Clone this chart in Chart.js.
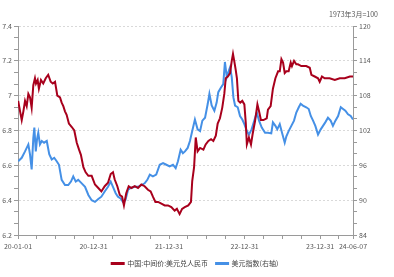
<!DOCTYPE html>
<html>
<head>
<meta charset="utf-8">
<script src="https://cdn.jsdelivr.net/npm/chart.js@4"></script>
<style>
html,body{margin:0;padding:0;background:#fff}
#wrap{width:394px;height:277px}
</style>
</head>
<body>
<div id="wrap"><canvas id="c" width="394" height="277"></canvas></div>
<script>
// 中国:中间价:美元兑人民币 (left axis)
const cnyDates = ['2020-01-02','2020-01-11','2020-01-19','2020-01-27','2020-02-04','2020-02-12','2020-02-20','2020-02-28','2020-03-07','2020-03-15','2020-03-23','2020-03-28','2020-04-05','2020-04-11','2020-04-21','2020-05-02','2020-05-14','2020-05-26','2020-06-07','2020-06-17','2020-06-28','2020-07-09','2020-07-22','2020-07-30','2020-08-07','2020-08-15','2020-08-23','2020-09-03','2020-09-17','2020-09-29','2020-10-11','2020-10-22','2020-10-31','2020-11-12','2020-11-23','2020-12-06','2020-12-22','2021-01-07','2021-01-23','2021-02-07','2021-02-23','2021-03-11','2021-03-24','2021-04-04','2021-04-12','2021-04-25','2021-05-07','2021-05-18','2021-05-27','2021-06-07','2021-06-19','2021-07-02','2021-07-18','2021-08-03','2021-08-19','2021-09-04','2021-09-20','2021-10-03','2021-10-14','2021-10-26','2021-11-08','2021-11-24','2021-12-10','2021-12-26','2022-01-11','2022-01-27','2022-02-07','2022-02-20','2022-03-04','2022-03-17','2022-04-03','2022-04-16','2022-04-22','2022-05-01','2022-05-09','2022-05-18','2022-05-30','2022-06-15','2022-06-26','2022-07-09','2022-07-22','2022-08-02','2022-08-14','2022-08-23','2022-09-03','2022-09-14','2022-09-24','2022-10-01','2022-10-11','2022-10-22','2022-10-30','2022-11-05','2022-11-11','2022-11-18','2022-11-24','2022-12-01','2022-12-10','2022-12-20','2022-12-30','2023-01-06','2023-01-11','2023-01-21','2023-01-31','2023-02-08','2023-02-19','2023-03-03','2023-03-11','2023-03-20','2023-04-01','2023-04-17','2023-04-23','2023-05-06','2023-05-17','2023-05-29','2023-06-11','2023-06-19','2023-06-27','2023-07-05','2023-07-13','2023-07-21','2023-08-01','2023-08-11','2023-08-17','2023-08-27','2023-09-07','2023-09-15','2023-10-01','2023-10-25','2023-11-11','2023-11-19','2023-12-05','2023-12-21','2023-12-29','2024-01-09','2024-01-22','2024-02-15','2024-03-11','2024-04-04','2024-04-28','2024-05-23','2024-06-07'];
const cnyValues = [6.97,6.91,6.86,6.91,6.97,6.94,7.01,6.99,6.93,7.06,7.10,7.07,7.09,7.04,7.09,7.07,7.10,7.12,7.08,7.07,7.08,7.00,6.99,6.96,6.94,6.91,6.89,6.84,6.82,6.80,6.73,6.69,6.66,6.59,6.56,6.54,6.54,6.49,6.47,6.45,6.48,6.50,6.55,6.56,6.52,6.48,6.43,6.42,6.37,6.44,6.48,6.47,6.48,6.47,6.49,6.48,6.46,6.45,6.42,6.39,6.39,6.38,6.37,6.37,6.36,6.34,6.35,6.32,6.35,6.36,6.37,6.39,6.51,6.59,6.76,6.68,6.70,6.69,6.72,6.74,6.75,6.74,6.77,6.84,6.87,6.93,7.01,7.10,7.11,7.13,7.20,7.24,7.20,7.15,7.10,6.97,6.96,6.97,6.95,6.84,6.72,6.76,6.72,6.78,6.85,6.95,6.91,6.86,6.86,6.87,6.92,6.94,7.04,7.10,7.14,7.14,7.21,7.19,7.13,7.14,7.14,7.19,7.17,7.20,7.18,7.18,7.17,7.17,7.16,7.12,7.11,7.10,7.08,7.11,7.10,7.10,7.09,7.10,7.10,7.11,7.11];

// 美元指数 (right axis)
const dxyDates = ['2020-01-02','2020-01-19','2020-02-04','2020-02-20','2020-02-28','2020-03-07','2020-03-15','2020-03-20','2020-03-27','2020-04-02','2020-04-08','2020-04-16','2020-04-25','2020-05-06','2020-05-19','2020-05-31','2020-06-12','2020-06-24','2020-07-06','2020-07-17','2020-07-30','2020-08-15','2020-08-31','2020-09-13','2020-09-24','2020-10-06','2020-10-18','2020-11-04','2020-11-20','2020-12-06','2020-12-22','2021-01-07','2021-01-23','2021-02-07','2021-02-23','2021-03-11','2021-03-24','2021-04-04','2021-04-17','2021-04-28','2021-05-11','2021-05-22','2021-06-03','2021-06-16','2021-06-29','2021-07-18','2021-08-03','2021-08-19','2021-09-04','2021-09-17','2021-09-29','2021-10-14','2021-10-30','2021-11-16','2021-12-02','2021-12-18','2022-01-03','2022-01-19','2022-02-01','2022-02-12','2022-02-25','2022-03-08','2022-03-18','2022-03-31','2022-04-11','2022-04-22','2022-05-05','2022-05-18','2022-05-30','2022-06-10','2022-06-23','2022-07-06','2022-07-14','2022-07-25','2022-08-07','2022-08-18','2022-08-26','2022-09-08','2022-09-19','2022-09-27','2022-10-06','2022-10-14','2022-10-22','2022-10-30','2022-11-07','2022-11-15','2022-11-28','2022-12-09','2022-12-20','2022-12-30','2023-01-11','2023-01-21','2023-02-03','2023-02-16','2023-02-28','2023-03-11','2023-03-24','2023-04-09','2023-04-23','2023-05-09','2023-05-17','2023-05-29','2023-06-07','2023-06-19','2023-06-30','2023-07-13','2023-07-21','2023-08-01','2023-08-14','2023-08-27','2023-09-07','2023-09-19','2023-09-28','2023-10-09','2023-10-25','2023-11-06','2023-11-16','2023-11-27','2023-12-08','2023-12-21','2024-01-03','2024-01-14','2024-01-25','2024-02-07','2024-02-20','2024-03-02','2024-03-14','2024-03-27','2024-04-09','2024-04-20','2024-05-01','2024-05-14','2024-05-27','2024-06-07'];
const dxyValues = [96.7,97.3,98.4,99.6,97.9,95.3,100.7,102.5,98.4,100.5,101.6,99.6,100.2,99.9,100.2,97.9,97.0,97.3,96.7,96.1,93.5,92.6,92.6,93.2,94.1,93.2,93.5,92.9,92.3,90.9,90.0,89.7,90.2,90.6,91.5,92.3,93.2,92.3,91.2,90.6,90.3,89.7,90.0,91.8,92.1,92.3,92.3,92.6,92.9,93.5,94.4,94.1,94.4,96.1,96.4,96.1,95.8,96.1,95.5,96.7,98.7,98.1,98.4,99.0,100.2,101.9,103.9,102.2,101.9,103.7,104.2,106.6,108.3,106.3,105.4,106.8,108.6,109.4,110.0,113.8,111.2,112.1,112.9,111.2,107.7,106.3,106.0,104.5,103.9,103.1,101.9,101.3,102.2,103.7,105.1,103.7,102.5,101.6,101.6,101.5,103.4,102.8,102.2,103.1,101.6,99.9,101.0,101.9,102.8,103.7,105.1,106.0,106.6,106.3,106.0,105.7,104.5,103.7,102.8,101.3,102.2,102.8,103.4,104.2,103.7,102.8,103.7,104.5,106.0,105.7,105.4,104.8,104.5,103.9];

// axes
const xTickDates = ['2020-01-01','2020-03-31','2020-06-30','2020-09-30','2020-12-31','2021-03-31','2021-06-30','2021-09-30','2021-12-31','2022-03-31','2022-06-30','2022-09-30','2022-12-31','2023-03-31','2023-06-30','2023-09-30','2023-12-31','2024-03-31','2024-06-07'];
const xLabelDates = ['2020-01-01','2020-12-31','2021-12-31','2022-12-31','2023-12-31','2024-06-07'];
const leftTicks = [6.2,6.4,6.6,6.8,7.0,7.2,7.4];
const leftLabels = ['6.2','6.4','6.6','6.8','7','7.2','7.4'];
const rightTicks = [84,90,96,102,108,114,120];
const seriesNames = ['中国:中间价:美元兑人民币','美元指数(右轴)'];
const baseNote = '1973年3月=100';

const T0 = Date.parse('2020-01-01');
const day = s => (Date.parse(s) - T0) / 864e5;
const pts = (ds, vs) => ds.map((d, i) => ({x: day(d), y: vs[i]}));

Chart.defaults.font.family = '"Noto Sans CJK SC", "Microsoft YaHei", sans-serif';
Chart.defaults.font.size = 7;
Chart.defaults.color = '#595959';

const axisColor = '#9a9a9a';
const red = '#a8001c', blue = '#4590e6';

// ticks with minor marks between labelled ones
function withMinor(major, parts){
	const out = [];
	for(let i=0;i<major.length-1;i++){
		for(let k=0;k<parts;k++) out.push({value: major[i] + (major[i+1]-major[i])*k/parts, major: k===0});
	}
	out.push({value: major[major.length-1], major: true});
	return out;
}

const notePlugin = {
	id: 'note',
	afterDraw(chart){
		const ctx = chart.ctx;
		ctx.save();
		ctx.font = '7px "Noto Sans CJK SC", sans-serif';
		ctx.fillStyle = '#595959';
		ctx.textAlign = 'right'; ctx.textBaseline = 'middle';
		ctx.fillText(baseNote, 378, 14);
		ctx.restore();
	},
	afterLayout(chart){
		chart.legend.left -= 2; chart.legend.right -= 2;
	}
};

new Chart(document.getElementById('c'), {
	type: 'line',
	data: {
		datasets: [
			{label: seriesNames[0], data: pts(cnyDates, cnyValues), yAxisID: 'y', borderColor: red, backgroundColor: red, borderWidth: 2, pointRadius: 0, tension: 0},
			{label: seriesNames[1], data: pts(dxyDates, dxyValues), yAxisID: 'y1', borderColor: blue, backgroundColor: blue, borderWidth: 2, pointRadius: 0, tension: 0}
		]
	},
	options: {
		responsive: false,
		animation: false,
		devicePixelRatio: 1,
		layout: {padding: {top: 26, left: 0, right: 0, bottom: 0}},
		plugins: {
			legend: {position: 'bottom', labels: {boxWidth: 12, boxHeight: 1, padding: 8, font: {size: 7}, color: '#404040'}},
			tooltip: {enabled: false}
		},
		scales: {
			x: {
				type: 'linear', min: 0, max: day('2024-06-07'),
				afterBuildTicks: s => { s.ticks = xTickDates.map(d => ({value: day(d)})); },
				afterFit: s => { s.height = 17; },
				ticks: {autoSkip: false, maxRotation: 0, padding: 3,
					callback: (v) => { const d = xLabelDates.find(t => day(t) === v); return d ? d.slice(2) : ''; }},
				grid: {drawOnChartArea: false, tickLength: 4, tickColor: axisColor},
				border: {color: axisColor}
			},
			y: {
				position: 'left', min: 6.2, max: 7.4,
				afterBuildTicks: s => { s.ticks = withMinor(leftTicks, 3); },
				afterFit: s => { s.width = 18; },
				ticks: {padding: 2, callback: (v, i) => i % 3 === 0 ? leftLabels[i/3] : ''},
				grid: {tickLength: 4, tickColor: axisColor,
					color: c => (c.index % 3 === 0 && c.index > 0) ? '#d9d9d9' : 'rgba(0,0,0,0)'},
				border: {color: axisColor, dash: [2, 2]}
			},
			y1: {
				position: 'right', min: 84, max: 120,
				afterBuildTicks: s => { s.ticks = withMinor(rightTicks, 3); },
				afterFit: s => { s.width = 41; },
				ticks: {padding: 2, callback: (v, i) => i % 3 === 0 ? String(rightTicks[i/3]) : ''},
				grid: {drawOnChartArea: false, tickLength: 4, tickColor: axisColor},
				border: {color: axisColor}
			}
		}
	},
	plugins: [notePlugin]
});
</script>
</body>
</html>
